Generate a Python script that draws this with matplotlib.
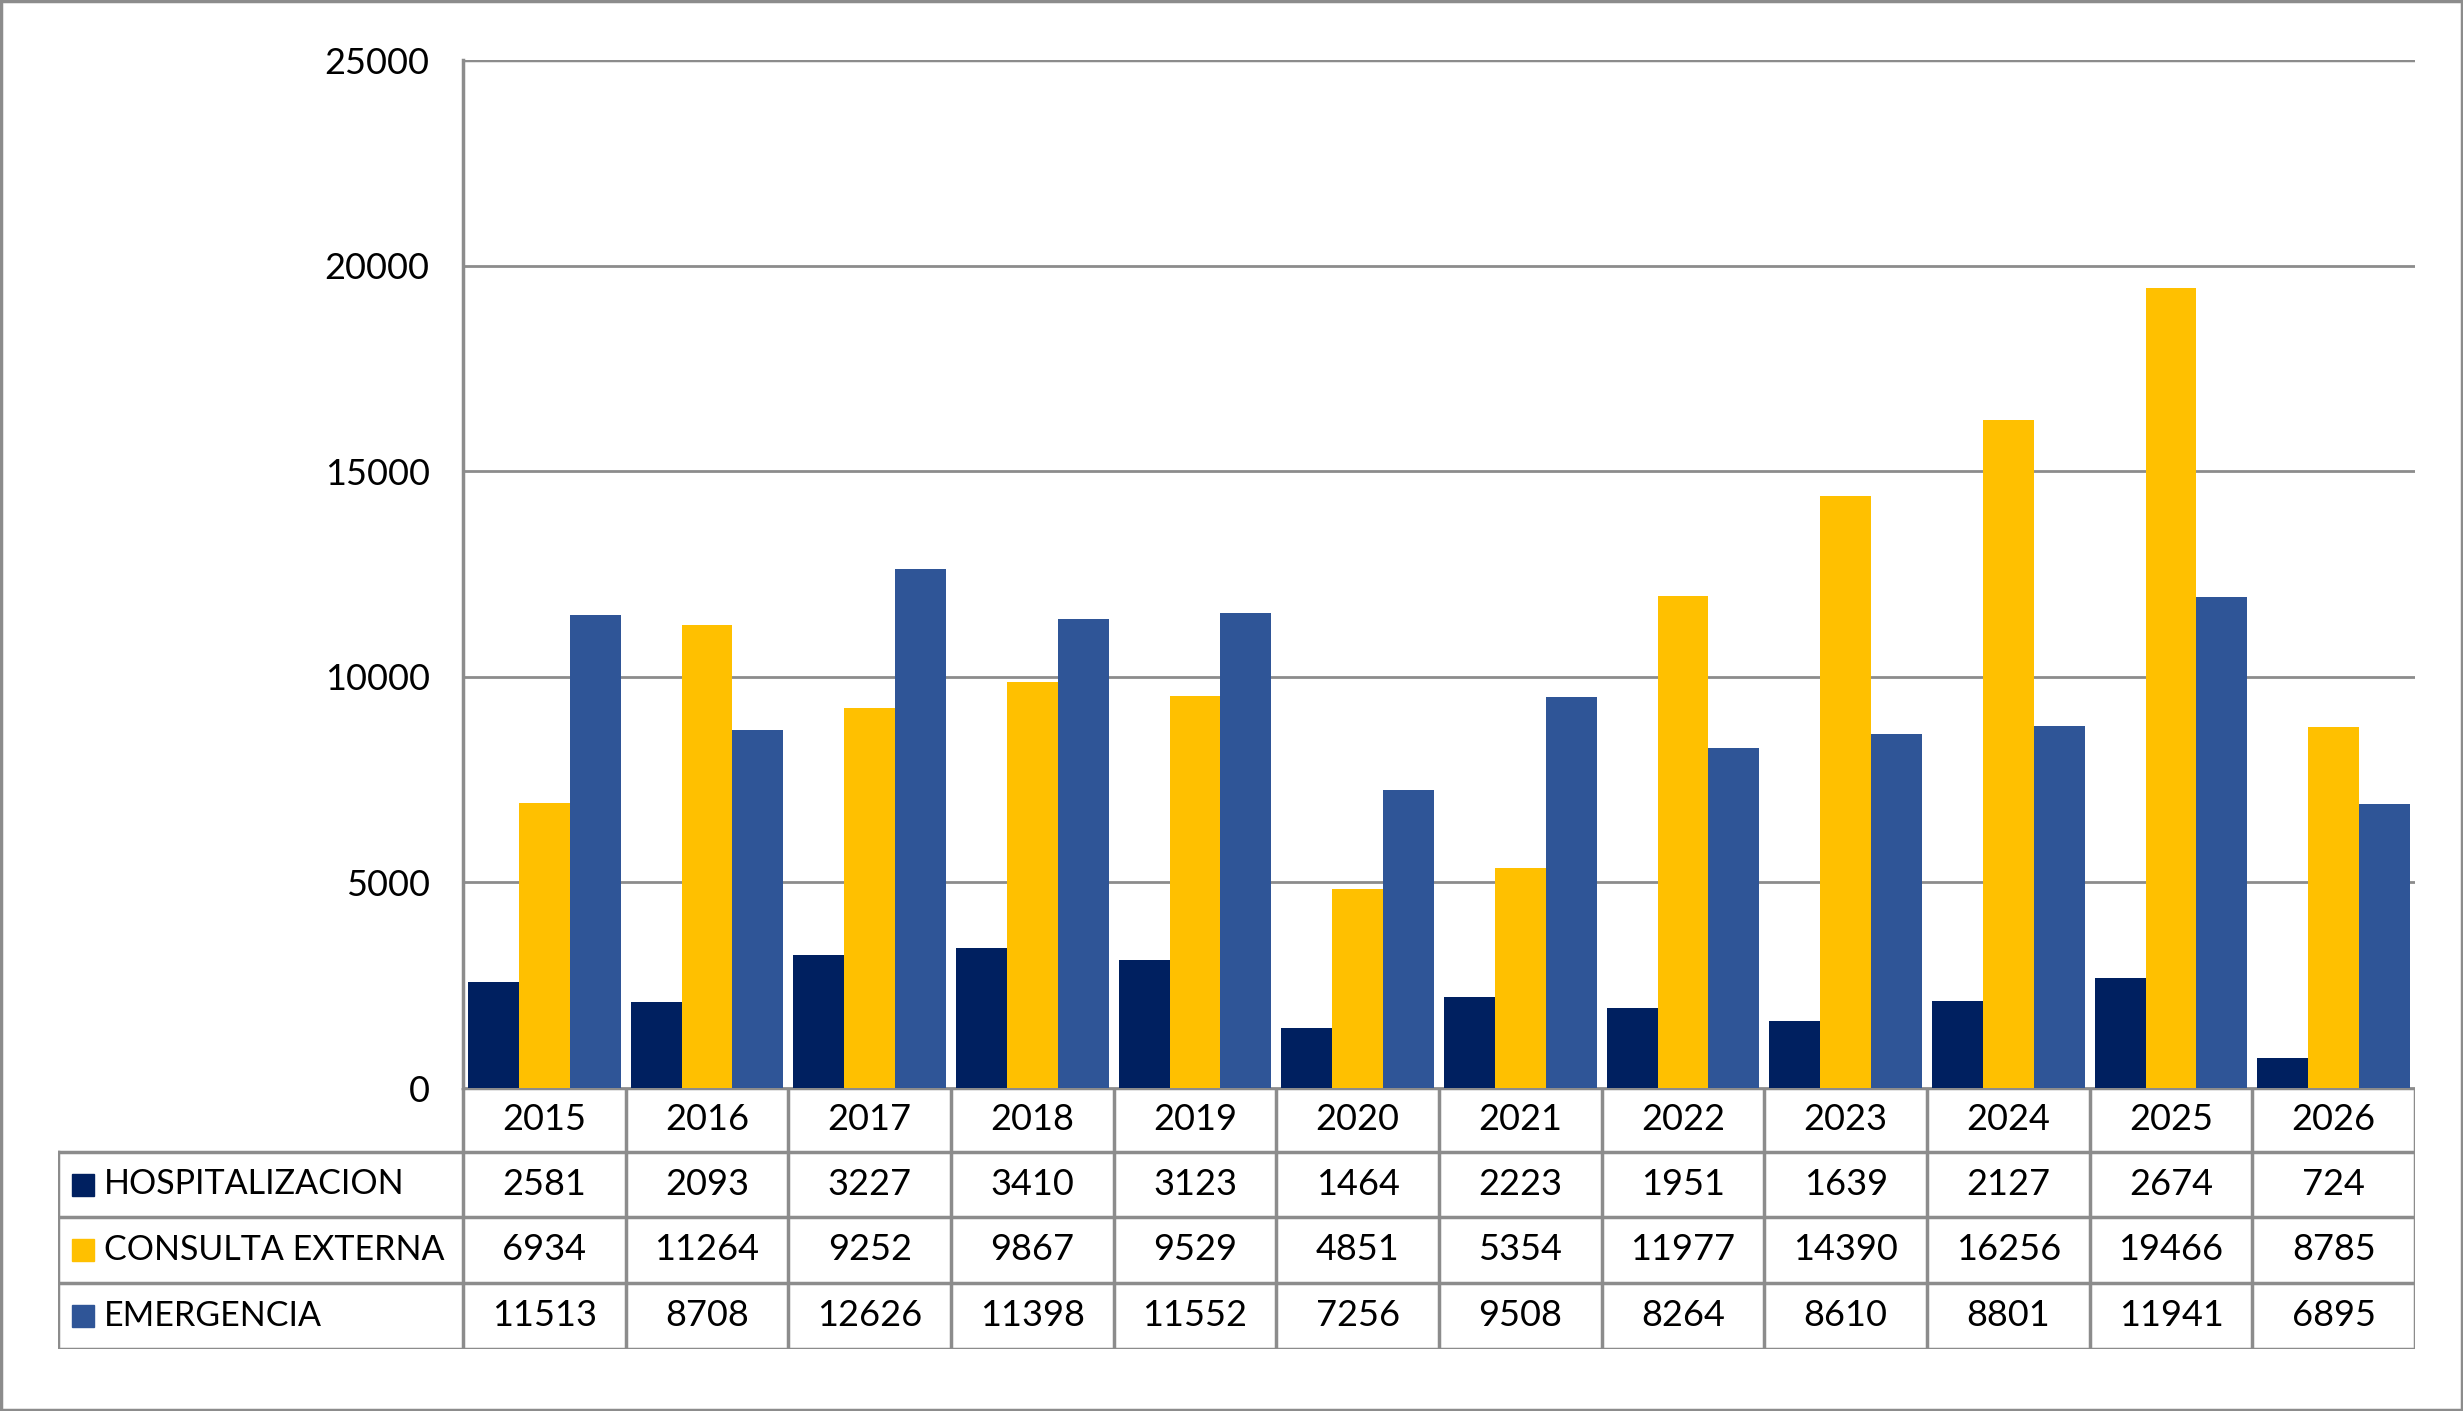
import matplotlib
matplotlib.use("Agg")
import matplotlib.pyplot as plt
from matplotlib.patches import Rectangle
from matplotlib.lines import Line2D

years = ["2015", "2016", "2017", "2018", "2019", "2020", "2021", "2022", "2023", "2024", "2025", "2026"]
series_names = ["HOSPITALIZACION", "CONSULTA EXTERNA", "EMERGENCIA"]
hospitalizacion = [2581, 2093, 3227, 3410, 3123, 1464, 2223, 1951, 1639, 2127, 2674, 724]
consulta_externa = [6934, 11264, 9252, 9867, 9529, 4851, 5354, 11977, 14390, 16256, 19466, 8785]
emergencia = [11513, 8708, 12626, 11398, 11552, 7256, 9508, 8264, 8610, 8801, 11941, 6895]
y_ticks = [0, 5000, 10000, 15000, 20000, 25000]

colors = ["#002060", "#FFC000", "#2F5597"]
grid_c = "#8C8C8C"
FONT = "Lato"
FS = 26
FS_LAB = 24.5

W, H = 2463, 1411
fig = plt.figure(figsize=(W / 100, H / 100), dpi=100)
fig.patch.set_facecolor("white")

def fx(px):
    return px / W

def fy(py):
    return 1 - py / H

# plot area in pixels
pl, pr, pt, pb = 463, 2415, 60, 1088
ax = fig.add_axes([fx(pl), fy(pb), fx(pr) - fx(pl), fy(pt) - fy(pb)])
n = len(years)
ax.set_xlim(0, n)
ax.set_ylim(0, 25000)
w = 0.313
data = [hospitalizacion, consulta_externa, emergencia]
for k, vals in enumerate(data):
    xs = [i + 0.5 + (k - 1) * w for i in range(n)]
    ax.bar(xs, vals, width=w, color=colors[k], zorder=3)
ax.set_yticks(y_ticks)
ax.set_yticklabels([str(v) for v in y_ticks], fontsize=FS, family=FONT)
ax.tick_params(axis="y", length=0, pad=24)
ax.set_xticks([])
ax.grid(axis="y", color=grid_c, linewidth=2, zorder=0)
for s in ["top", "right", "bottom"]:
    ax.spines[s].set_visible(False)
ax.spines["left"].set_color(grid_c)
ax.spines["left"].set_linewidth(2.5)
ax.axhline(25000, color=grid_c, lw=2.5, zorder=1)

# table
tl, tb = 58, 1349
row_edges = [1088, 1152, 1217, 1283, 1349]
tax = fig.add_axes([fx(tl), fy(tb), fx(pr) - fx(tl), fy(pb) - fy(tb)])
label_w = (pl - tl) / ((pr - pl) / n)
tax.set_xlim(-label_w, n)
tax.set_ylim(0, 4)
tax.axis("off")
lw_t = 2.5

def ry(py):
    return 4 * (tb - py) / (tb - pb)

rows_y = [ry(v) for v in row_edges]
tax.add_line(Line2D([0, n], [rows_y[0], rows_y[0]], color=grid_c, lw=lw_t, zorder=4))
for yv in rows_y[1:]:
    tax.add_line(Line2D([-label_w, n], [yv, yv], color=grid_c, lw=lw_t))
for i in range(n + 1):
    tax.add_line(Line2D([i, i], [rows_y[-1], rows_y[0]], color=grid_c, lw=lw_t))
tax.add_line(Line2D([-label_w, -label_w], [rows_y[-1], rows_y[1]], color=grid_c, lw=lw_t))

yc = (rows_y[0] + rows_y[1]) / 2
for i, yr in enumerate(years):
    tax.text(i + 0.5, yc, yr, ha="center", va="center", fontsize=FS, family=FONT)
cat_px = (pr - pl) / n
for k, (name, vals) in enumerate(zip(series_names, data)):
    yc = (rows_y[k + 1] + rows_y[k + 2]) / 2
    sq = 22 / (tb - pb) * 4
    sqw = 22 / cat_px
    x0 = -label_w + (72 - tl) / cat_px
    tax.add_patch(Rectangle((x0, yc - sq / 2), sqw, sq, color=colors[k]))
    tax.text(-label_w + (104 - tl) / cat_px, yc, name, ha="left", va="center",
             fontsize=FS_LAB, family=FONT)
    for i, v in enumerate(vals):
        tax.text(i + 0.5, yc, str(v), ha="center", va="center", fontsize=FS, family=FONT)

fig.add_artist(Rectangle((0.0005, 0.0008), 0.999, 0.9985, transform=fig.transFigure,
                         fill=False, edgecolor=grid_c, lw=2.5))

fig.savefig("out.png", dpi=100)
